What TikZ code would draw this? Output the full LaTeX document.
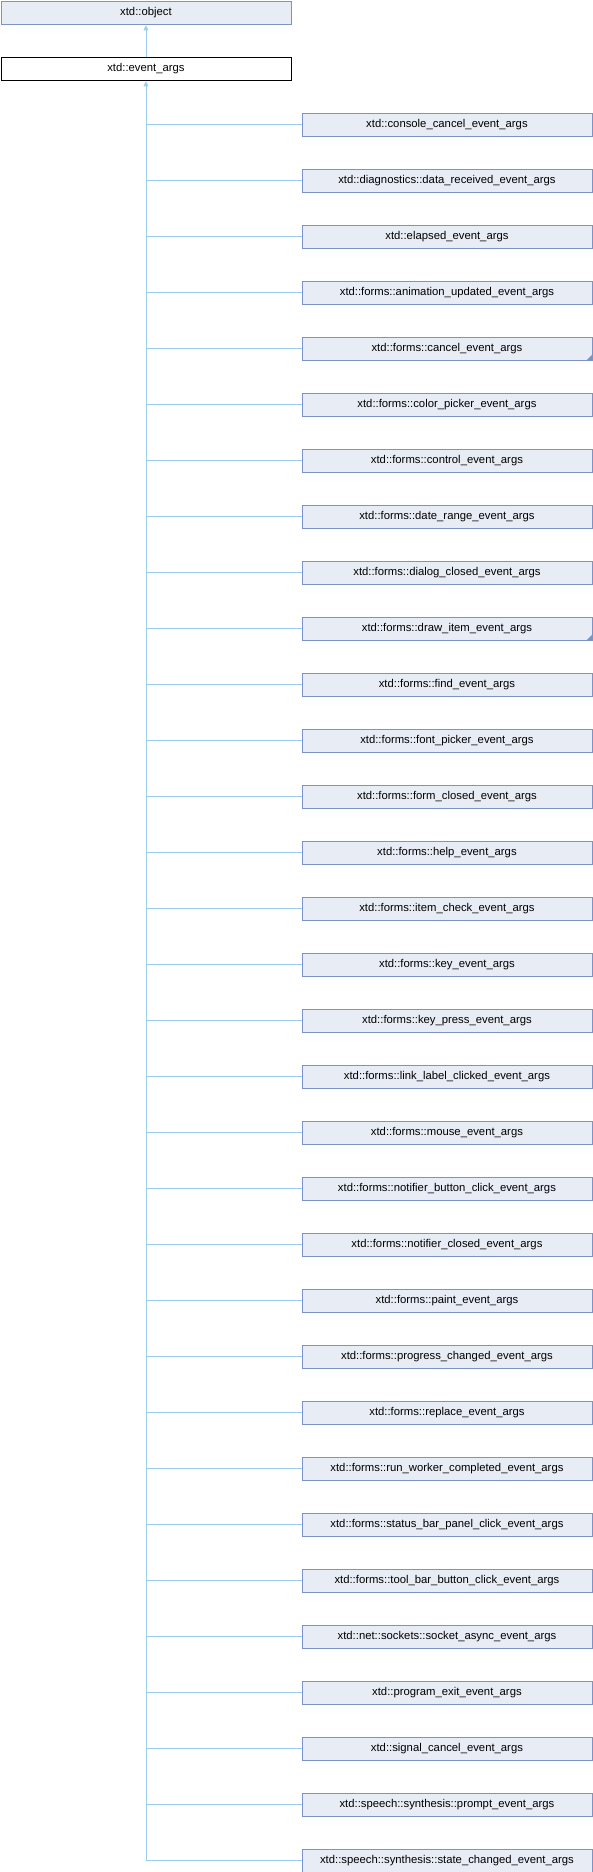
\documentclass[tikz,border=0pt]{standalone}
\usepackage{fontspec}
\setmainfont{Liberation Sans}
\usetikzlibrary{arrows.meta}
\definecolor{boxfill}{HTML}{E8ECF5}
\definecolor{boxdraw}{HTML}{7B93C8}
\definecolor{edgecol}{HTML}{9CCDEA}
\tikzset{
  cls/.style={draw=boxdraw, fill=boxfill, line width=0.9pt, rectangle, minimum width=290pt, minimum height=23pt, inner sep=0pt, font=\fontsize{11.3pt}{13pt}\selectfont, anchor=north west},
  cur/.style={cls, draw=black, fill=white},
  edgeline/.style={draw=edgecol, line width=0.9pt},
  inh/.style={edgeline, -{Triangle[width=5pt,length=5pt]}, shorten >=1pt}
}
\begin{document}
\begin{tikzpicture}[x=1pt,y=-1pt]
\useasboundingbox (0,0) rectangle (592,1872);
\node[cls] (obj) at (0.5,0.5) {xtd::object};
\node[cur] (ea) at (0.5,56.5) {xtd::event\_args};
\draw[inh] (ea.north) -- (obj.south);
\foreach \i/\t in {1/console\_cancel\_event\_args,
 2/diagnostics::data\_received\_event\_args,
 3/elapsed\_event\_args,
 4/forms::animation\_updated\_event\_args,
 5/forms::cancel\_event\_args,
 6/forms::color\_picker\_event\_args,
 7/forms::control\_event\_args,
 8/forms::date\_range\_event\_args,
 9/forms::dialog\_closed\_event\_args,
 10/forms::draw\_item\_event\_args,
 11/forms::find\_event\_args,
 12/forms::font\_picker\_event\_args,
 13/forms::form\_closed\_event\_args,
 14/forms::help\_event\_args,
 15/forms::item\_check\_event\_args,
 16/forms::key\_event\_args,
 17/forms::key\_press\_event\_args,
 18/forms::link\_label\_clicked\_event\_args,
 19/forms::mouse\_event\_args,
 20/forms::notifier\_button\_click\_event\_args,
 21/forms::notifier\_closed\_event\_args,
 22/forms::paint\_event\_args,
 23/forms::progress\_changed\_event\_args,
 24/forms::replace\_event\_args,
 25/forms::run\_worker\_completed\_event\_args,
 26/forms::status\_bar\_panel\_click\_event\_args,
 27/forms::tool\_bar\_button\_click\_event\_args,
 28/net::sockets::socket\_async\_event\_args,
 29/program\_exit\_event\_args,
 30/signal\_cancel\_event\_args,
 31/speech::synthesis::prompt\_event\_args,
 32/speech::synthesis::state\_changed\_event\_args}{
  \node[cls] (c\i) at (301.5,{112.5+(\i-1)*56}) {xtd::\t};
}
\foreach \i in {1,...,31}{
  \draw[edgeline] (c\i.west) -- (c\i.west -| ea.south);
}
\draw[inh] (c32.west) -| (ea.south);
\foreach \i in {5,10}{
  \fill[boxdraw] (c\i.south east) -- ++(0,-6) -- ++(-6,6) -- cycle;
}
\end{tikzpicture}
\end{document}
